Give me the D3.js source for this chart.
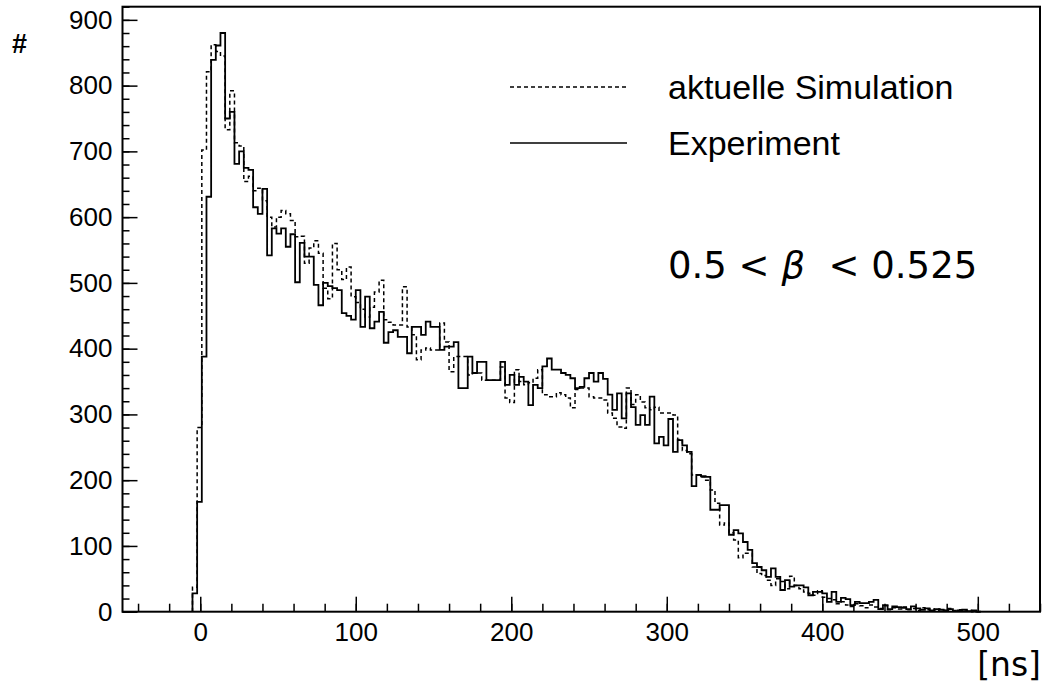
<!DOCTYPE html>
<html>
<head>
<meta charset="utf-8">
<script src="https://cdn.jsdelivr.net/npm/d3@7"></script>
<style>
  body { margin: 0; background: #fff; }
  svg { display: block; }
  .tick text { font-family: "Liberation Sans", Arial, Helvetica, sans-serif; fill: #000; }
  .tick line { stroke: #000; stroke-width: 1.5; }
</style>
</head>
<body>
<svg id="chart" width="1055" height="697"></svg>
<script>
// histogram bins: first bin starts at binStart, every bin is binWidth ns wide
const binStart = -5;
const binWidth = 3;

// Experiment (solid)
const experiment = [
    28, 167, 388, 631, 839, 861, 880, 750, 760, 681,
    700, 675, 672, 615, 605, 643, 542, 583, 575, 583,
    555, 574, 501, 561, 540, 540, 497, 466, 500, 495,
    492, 489, 454, 450, 444, 489, 433, 479, 431, 441,
    456, 409, 425, 428, 418, 418, 393, 433, 433, 421,
    441, 433, 433, 398, 403, 403, 410, 340, 340, 388,
    363, 380, 380, 352, 352, 352, 380, 345, 360, 345,
    357, 350, 314, 345, 340, 373, 385, 368, 368, 363,
    360, 355, 340, 342, 355, 363, 350, 363, 354, 330,
    307, 332, 294, 332, 311, 284, 299, 284, 327, 256,
    266, 253, 293, 243, 261, 253, 243, 191, 208, 206,
    205, 155, 155, 162, 162, 117, 124, 119, 106, 94,
    74, 68, 63, 53, 66, 53, 33, 48, 38, 40,
    40, 37, 25, 30, 30, 28, 15, 30, 15, 21,
    19, 10, 15, 13, 13, 15, 18, 4, 10, 4,
    8, 7, 6, 4, 8, 5, 3, 5, 2, 4,
    3, 2, 4, 1, 2, 3, 1, 2, 0
];

// aktuelle Simulation (dashed)
const simulation = [
    37, 280, 702, 821, 862, 852, 845, 733, 792, 713,
    708, 654, 662, 640, 644, 625, 600, 585, 600, 610,
    605, 595, 570, 571, 530, 553, 564, 545, 492, 476,
    560, 520, 505, 524, 479, 470, 460, 448, 463, 486,
    504, 444, 440, 436, 436, 494, 433, 421, 383, 398,
    401, 398, 398, 439, 410, 365, 388, 388, 388, 360,
    363, 363, 352, 352, 352, 352, 372, 325, 318, 368,
    350, 345, 348, 355, 368, 330, 327, 327, 333, 330,
    325, 310, 338, 340, 340, 327, 325, 325, 322, 302,
    294, 281, 279, 340, 315, 330, 319, 310, 307, 311,
    302, 302, 302, 299, 262, 245, 240, 208, 208, 205,
    200, 185, 165, 132, 135, 120, 109, 82, 89, 89,
    68, 58, 55, 48, 40, 50, 46, 35, 54, 40,
    35, 30, 28, 25, 32, 22, 20, 18, 12, 15,
    10, 8, 12, 9, 6, 10, 7, 5, 9, 3,
    6, 4, 7, 3, 5, 2, 6, 3, 4, 1,
    4, 2, 5, 2, 3, 1, 2, 0, 0
];

const xTickLabels = [0, 100, 200, 300, 400, 500];
const yTickLabels = [0, 100, 200, 300, 400, 500, 600, 700, 800, 900];
const legendLabels = ["aktuelle Simulation", "Experiment"];

const font = '"Liberation Sans", Arial, Helvetica, sans-serif';
const frameL = 122.5, frameR = 1040, frameT = 6.7, frameB = 611.7;

const svg = d3.select("#chart");

const x = d3.scaleLinear().domain([-50, 540]).range([frameL, frameR]);
const y = d3.scaleLinear().domain([0, 920]).range([frameB, frameT]);

// step outline of a histogram
const stepPoints = (values) => {
    const pts = [[binStart, 0]];
    values.forEach((v, i) => {
        const lo = binStart + i * binWidth;
        pts.push([lo, v]);
        pts.push([lo + binWidth, v]);
    });
    pts.push([binStart + values.length * binWidth, 0]);
    return pts;
};
const line = d3.line().x(d => x(d[0])).y(d => y(d[1]));

svg.append("path")
    .attr("d", line(stepPoints(simulation)))
    .attr("fill", "none")
    .attr("stroke", "#000")
    .attr("stroke-width", 1.5)
    .attr("stroke-dasharray", "4,3");

svg.append("path")
    .attr("d", line(stepPoints(experiment)))
    .attr("fill", "none")
    .attr("stroke", "#000")
    .attr("stroke-width", 1.8);

// axes, ticks point into the frame
const minorY = d3.range(0, 921, 20);
const minorX = d3.range(-40, 541, 20);

svg.append("g")
    .attr("transform", `translate(${frameL},0)`)
    .call(d3.axisLeft(y).tickValues(minorY).tickSize(-7).tickFormat(""))
    .call(g => g.select(".domain").remove());
svg.append("g")
    .attr("transform", `translate(${frameL},0)`)
    .call(d3.axisLeft(y).tickValues(yTickLabels).tickSize(-15).tickPadding(10))
    .call(g => g.select(".domain").remove())
    .selectAll("text").style("font-size", "26px");

svg.append("g")
    .attr("transform", `translate(0,${frameB})`)
    .call(d3.axisBottom(x).tickValues(minorX).tickSize(-8).tickFormat(""))
    .call(g => g.select(".domain").remove());
svg.append("g")
    .attr("transform", `translate(0,${frameB})`)
    .call(d3.axisBottom(x).tickValues(xTickLabels).tickSize(-15).tickPadding(11))
    .call(g => g.select(".domain").remove())
    .selectAll("text").style("font-size", "26px");

// frame
svg.append("rect")
    .attr("x", frameL).attr("y", frameT)
    .attr("width", frameR - frameL).attr("height", frameB - frameT)
    .attr("fill", "none").attr("stroke", "#000").attr("stroke-width", 2);

// legend
const legend = svg.append("g").attr("font-family", font).attr("font-size", 34);
legendLabels.forEach((label, i) => {
    const ly = 87 + i * 56;
    legend.append("line")
        .attr("x1", 510).attr("x2", 627).attr("y1", ly).attr("y2", ly)
        .attr("stroke", "#000").attr("stroke-width", 1.5)
        .attr("stroke-dasharray", i === 0 ? "4,3" : null);
    legend.append("text")
        .attr("x", 668).attr("y", ly + 12)
        .text(label);
});

// cut annotation
const cut = svg.append("text")
    .attr("x", 668).attr("y", 278)
    .attr("font-family", "\"DejaVu Sans\", sans-serif").attr("font-size", 37);
cut.append("tspan").text("0.5 < ");
cut.append("tspan").attr("font-style", "italic").text("\u03b2");
cut.append("tspan").text("\u00a0 < 0.525");

// axis titles
svg.append("text")
    .attr("x", 12).attr("y", 53)
    .attr("font-family", font).attr("font-size", 27).attr("font-weight", "bold")
    .text("#");
svg.append("text")
    .attr("x", 1041).attr("y", 676)
    .attr("text-anchor", "end")
    .attr("font-family", "\"DejaVu Sans\", sans-serif").attr("font-size", 33)
    .text("[ns]");
</script>
</body>
</html>
